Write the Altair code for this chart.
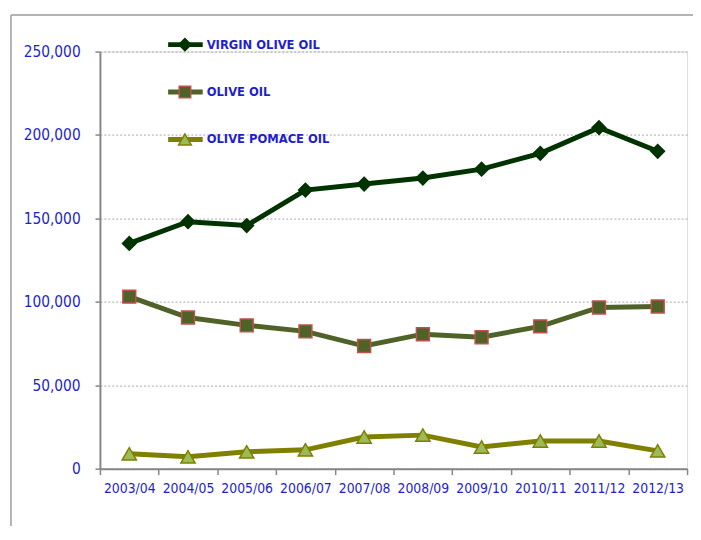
import altair as alt
import pandas as pd

seasons = ["2003/04", "2004/05", "2005/06", "2006/07", "2007/08",
           "2008/09", "2009/10", "2010/11", "2011/12", "2012/13"]
virgin = [135000, 148000, 145700, 167000, 170600, 174200, 179500, 189000, 204400, 190200]
olive = [103100, 90600, 85900, 82300, 73500, 80600, 78800, 85300, 96600, 97200]
pomace = [8900, 7100, 10100, 11300, 19000, 20100, 13000, 16600, 16600, 10700]
series_names = ["VIRGIN OLIVE OIL", "OLIVE OIL", "OLIVE POMACE OIL"]
y_ticks = [0, 50000, 100000, 150000, 200000, 250000]

FONT = "DejaVu Sans Condensed, DejaVu Sans, sans-serif"
BLUE = "#1f1fcc"
AXIS_GRAY = "#868686"

styles = {
    "VIRGIN OLIVE OIL": dict(line="#003300", shape="diamond", fill="#003300", stroke="#003300", size=190),
    "OLIVE OIL": dict(line="#4f6228", shape="square", fill="#4f6228", stroke="#c0504d", size=170),
    "OLIVE POMACE OIL": dict(line="#808000", shape="triangle-up", fill="#9bbb59", stroke="#808000", size=210),
}
values = {"VIRGIN OLIVE OIL": virgin, "OLIVE OIL": olive, "OLIVE POMACE OIL": pomace}

x_enc = alt.X("season:N", sort=seasons, bandPosition=0.5,
              scale=alt.Scale(type="band", domain=seasons, paddingInner=0, paddingOuter=0),
              axis=alt.Axis(title=None, tickBand="extent", labelFont=FONT, labelFontSize=14,
                            labelColor=BLUE, labelPadding=7, labelAngle=0,
                            domainColor=AXIS_GRAY, domainWidth=2, tickColor=AXIS_GRAY,
                            tickWidth=1.5, tickSize=6, grid=False))
y_enc = alt.Y("value:Q", scale=alt.Scale(domain=[0, 250000], nice=False),
              axis=alt.Axis(title=None, values=y_ticks, format=",.0f", labelFont=FONT,
                            labelFontSize=15.5, labelColor=BLUE, labelPadding=15,
                            domainColor=AXIS_GRAY, domainWidth=2, tickColor=AXIS_GRAY,
                            tickWidth=1.5, tickSize=5, grid=True, gridColor="#a6a6a6",
                            gridDash=[2, 2], gridWidth=1))

layers = []
legend_y = {"VIRGIN OLIVE OIL": -7, "OLIVE OIL": 41, "OLIVE POMACE OIL": 89}
for name in series_names:
    st = styles[name]
    df = pd.DataFrame({"season": seasons, "value": values[name]})
    base = alt.Chart(df)
    layers.append(base.mark_line(color=st["line"], strokeWidth=5).encode(x=x_enc, y=y_enc))
    layers.append(base.mark_point(shape=st["shape"], filled=True, fill=st["fill"],
                                  stroke=st["stroke"], strokeWidth=1.5, size=st["size"],
                                  opacity=1).encode(x=x_enc, y=y_enc))
    # legend entry
    ldf = pd.DataFrame({"s": [name]})
    lb = alt.Chart(ldf)
    ly = legend_y[name]
    layers.append(lb.mark_rule(color=st["line"], strokeWidth=5).encode(
        x=alt.value(69), x2=alt.value(104), y=alt.value(ly)))
    layers.append(lb.mark_point(shape=st["shape"], filled=True, fill=st["fill"],
                                stroke=st["stroke"], strokeWidth=1.5, size=st["size"] * 0.8,
                                opacity=1).encode(x=alt.value(86), y=alt.value(ly)))
    layers.append(lb.mark_text(align="left", baseline="middle", font=FONT, fontSize=13,
                               fontWeight="bold", color=BLUE).encode(
        x=alt.value(108), y=alt.value(ly), text="s:N"))

frame_df = pd.DataFrame({"s": ["frame"]})
frame_left = alt.Chart(frame_df).mark_rule(color="#b4b4b4", strokeWidth=2).encode(
    x=alt.value(-90), y=alt.value(-37), y2=alt.value(480))
frame_top = alt.Chart(frame_df).mark_rule(color="#b4b4b4", strokeWidth=2).encode(
    x=alt.value(-90), x2=alt.value(610), y=alt.value(-37))

chart = alt.layer(frame_left, frame_top, *layers).properties(
    width=594, height=422,
    autosize=alt.AutoSizeParams(type="none"),
    padding={"left": 93, "top": 41, "right": 6, "bottom": 60},
).configure_view(stroke="transparent", strokeWidth=0).configure(background="white")

chart.save("out.html", embed_options={"renderer": "svg", "actions": False})
